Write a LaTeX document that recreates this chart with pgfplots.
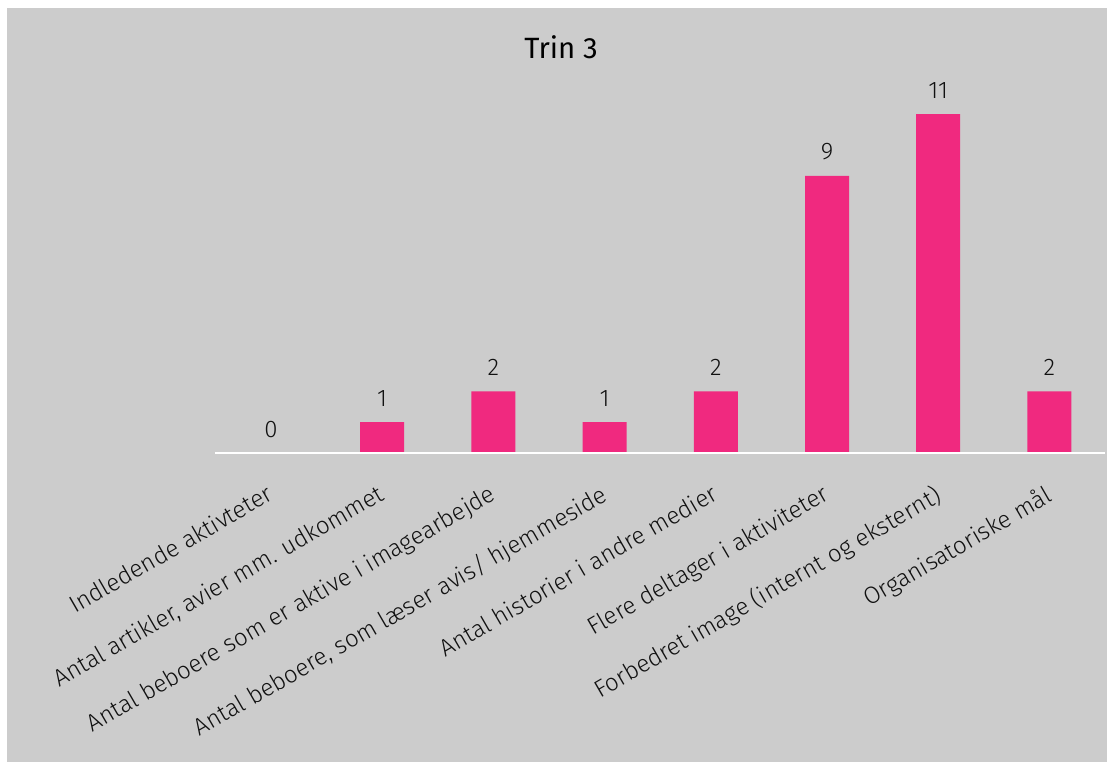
\documentclass[border=0pt]{standalone}
\usepackage{pgfplots}
\pgfplotsset{compat=1.18}
\usepackage{fontspec}
\setmainfont{Fira Sans Light}
\newfontfamily\titlefont{Fira Sans}
\definecolor{bg}{HTML}{CCCCCC}
\definecolor{barc}{HTML}{F0297F}
\definecolor{txt}{HTML}{111111}
\begin{document}
\begin{tikzpicture}
\begin{scope}[x=0.75pt,y=0.75pt]
\useasboundingbox (0,0) rectangle (1107,762);
\fill[white] (0,0) rectangle (1107,762);
\fill[bg] (7,0) rectangle (1107,754);
\node[font=\titlefont\fontsize{22}{26}\selectfont, text=black] at (561,715) {Trin 3};
\end{scope}
\begin{axis}[
  at={(161.55pt,231.75pt)}, anchor=south west,
  scale only axis, width=667.2pt, height=277.2pt,
  xmin=-0.5, xmax=7.5, ymin=0, ymax=12,
  axis x line*=bottom, axis y line=none,
  x axis line style={-, white, line width=1.5pt},
  axis on top,
  major tick length=0pt, ytick=\empty,
  xtick={0,...,7},
  xticklabels={Indledende aktivteter, {Antal artikler, avier mm. udkommet}, Antal beboere som er aktive i imagearbejde, {Antal beboere, som læser avis/ hjemmeside}, Antal historier i andre medier, Flere deltager i aktiviteter, Forbedret image (internt og eksternt), Organisatoriske mål},
  xticklabel style={yshift=-22.5pt, xshift=-4pt, rotate=30, anchor=north east, inner sep=0pt, font=\fontsize{18}{21}\selectfont, text=txt},
  /pgf/number format/assume math mode=true,
  ybar, bar width=33pt,
  nodes near coords,
  nodes near coords style={font=\fontsize{18}{21}\selectfont, text=txt, anchor=south, inner sep=0pt, yshift=11.5pt},
  clip=false,
]
\addplot[fill=barc, draw=none] coordinates {(0,0) (1,1) (2,2) (3,1) (4,2) (5,9) (6,11) (7,2)};
\end{axis}
\end{tikzpicture}
\end{document}
